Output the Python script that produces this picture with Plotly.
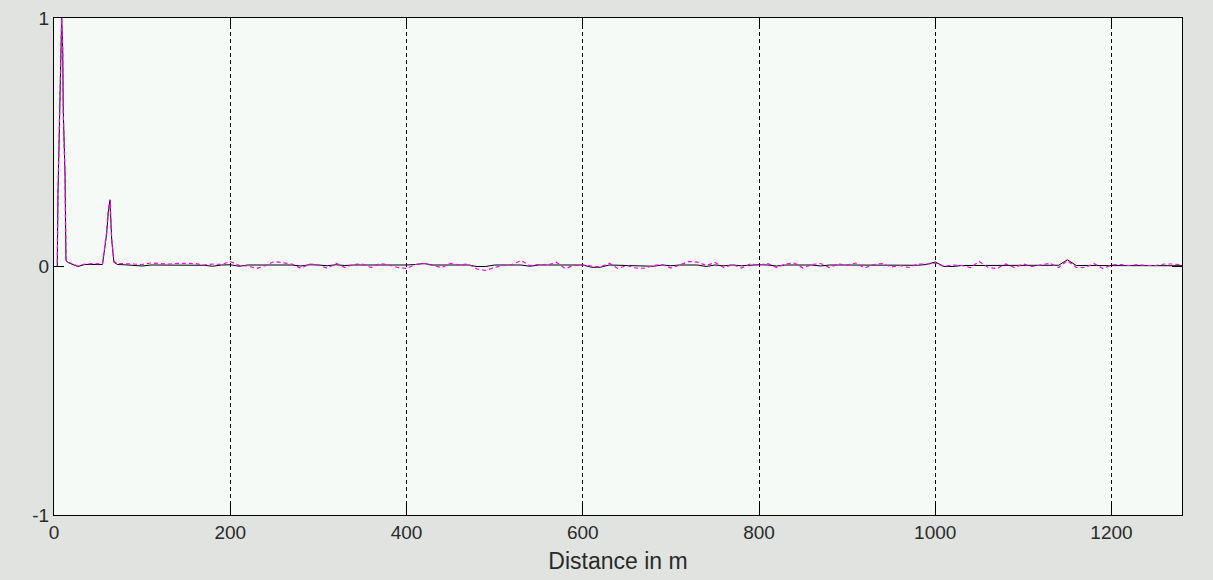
import plotly.graph_objects as go

# ---- data ----
dist_peak = [0, 3.0, 3.7, 4.5, 5.7, 7.9, 8.7, 9.9, 10.5, 12.5, 13.6, 16, 20, 27, 35, 45, 55,
             59.8, 61.6, 63.5, 65.5, 68, 72]
black_peak = [0, 0, 0.0, 0.29, 0.54, 0.86, 1.0, 0.87, 0.63, 0.37, 0.024, 0.016, 0.010, 0.0,
              0.008, 0.008, 0.008, 0.133, 0.218, 0.266, 0.105, 0.017, 0.008]
magenta_peak = [0, 0, 0.0, 0.30, 0.55, 0.87, 1.0, 0.86, 0.62, 0.36, 0.03, 0.018, 0.012, 0.002,
                0.010, 0.012, 0.010, 0.14, 0.225, 0.27, 0.11, 0.02, 0.012]

dist_tail = list(range(80, 1281, 10))  # sample positions 80 .. 1280 m
black_tail = [
    0.007, 0.006, 0.002, 0.006, 0.006, 0.007, 0.006, 0.007, 0.006, 0.005,   # 80-170
    0.001, 0.006, 0.007, 0.001, 0.006, 0.006, 0.007, 0.006, 0.006, 0.006,   # 180-270
    0.002, 0.007, 0.006, 0.003, 0.007, 0.004, 0.006, 0.006, 0.003, 0.006,   # 280-370
    0.006, 0.003, 0.006, 0.008, 0.012, 0.006, 0.006, 0.007, 0.006, 0.006,   # 380-470
    0.000, 0.000, 0.006, 0.006, 0.007, 0.006, 0.001, 0.006, 0.006, 0.006,   # 480-570
    0.005, 0.006, 0.006, -0.003, -0.003, 0.006, 0.005, 0.006, 0.006, 0.005, # 580-670
    0.001, 0.006, 0.003, 0.006, 0.006, 0.006, 0.000, 0.006, 0.003, 0.006,   # 680-770
    0.003, 0.006, 0.007, 0.006, 0.002, 0.006, 0.006, 0.005, 0.006, 0.002,   # 780-870
    0.006, 0.006, 0.006, 0.003, 0.006, 0.006, 0.006, 0.006, 0.004, 0.004,   # 880-970
    0.005, 0.008, 0.018, 0.000, 0.000, 0.004, 0.004, 0.005, 0.004, 0.004,   # 980-1070
    0.005, 0.004, 0.004, 0.003, 0.005, 0.004, 0.005, 0.027, 0.004, 0.004,   # 1080-1170
    0.004, 0.003, 0.004, 0.004, 0.004, 0.004, 0.003, 0.004, 0.004, 0.004,   # 1180-1270
    0.003,                                                                  # 1280
]
magenta_tail = [
    0.012, 0.010, 0.008, 0.014, 0.012, 0.010, 0.013, 0.014, 0.012, 0.006,   # 80-170
    0.010, 0.008, 0.020, 0.004, 0.002, -0.008, 0.004, 0.020, 0.016, 0.010,  # 180-270
    -0.007, 0.010, 0.006, -0.007, 0.013, -0.004, 0.008, 0.010, -0.004, 0.012,  # 280-370
    0.006, -0.004, -0.008, 0.008, 0.012, 0.004, -0.004, 0.013, 0.006, 0.010,   # 380-470
    -0.010, -0.016, -0.004, 0.004, 0.008, 0.024, 0.004, 0.008, 0.006, 0.017,  # 480-570
    -0.008, 0.004, 0.006, 0.002, -0.002, 0.013, -0.008, 0.004, -0.006, -0.007, # 580-670
    0.004, 0.008, -0.006, 0.006, 0.020, 0.018, 0.004, 0.016, -0.004, 0.008,   # 680-770
    -0.006, 0.010, 0.006, 0.012, -0.004, 0.010, 0.014, -0.006, 0.008, 0.012,  # 780-870
    -0.004, 0.010, 0.006, 0.014, -0.006, 0.008, 0.012, -0.002, 0.004, -0.004, # 880-970
    0.010, 0.010, 0.014, 0.000, 0.006, 0.004, -0.004, 0.020, -0.004, -0.008,  # 980-1070
    0.010, -0.004, 0.010, 0.000, 0.006, 0.013, -0.004, 0.024, -0.004, -0.004, # 1080-1170
    0.012, -0.008, 0.006, 0.008, 0.004, 0.008, 0.004, 0.004, 0.010, 0.010,    # 1180-1270
    0.006,                                                                    # 1280
]

x_ticks = [0, 200, 400, 600, 800, 1000, 1200]
y_ticks = [-1, 0, 1]
x_title = "Distance in m"

dist = dist_peak + dist_tail
black = black_peak + black_tail
magenta = magenta_peak + magenta_tail

fig = go.Figure()
fig.add_trace(go.Scatter(x=dist, y=black, mode="lines",
                         line=dict(color="black", width=1), showlegend=False))
fig.add_trace(go.Scatter(x=dist, y=magenta, mode="lines",
                         line=dict(color="#ff00ff", width=1.2, dash="4px,3px"), showlegend=False))

font = dict(family="Liberation Sans, Arial, sans-serif", size=19, color="#2a2a2a")
fig.update_layout(
    width=1213, height=580,
    margin=dict(l=54, r=31, t=18, b=65),
    paper_bgcolor="#e0e3e0",
    plot_bgcolor="#f5faf7",
    font=font,
    showlegend=False,
)
fig.update_xaxes(
    range=[0, 1280], tickvals=x_ticks, ticktext=[str(v) for v in x_ticks],
    showline=True, linecolor="black", linewidth=1, mirror="ticks",
    ticks="inside", ticklen=10, tickcolor="black", tickwidth=1,
    showgrid=True, gridcolor="black", gridwidth=1, griddash="4px,3px",
    zeroline=False, title=dict(text=x_title, standoff=11), tickfont=font,
    automargin=False,
)
fig.update_yaxes(
    range=[-1, 1], tickvals=y_ticks, ticktext=[str(v) for v in y_ticks],
    showline=True, linecolor="black", linewidth=1, mirror="ticks",
    ticks="inside", ticklen=10, tickcolor="black", tickwidth=1,
    showgrid=False, zeroline=False, tickfont=font, ticklabelstandoff=0,
    automargin=False,
)

fig.write_html(
    "out.html",
    config={"displayModeBar": False},
    post_script="document.body.style.margin='0';document.body.style.background='#e0e3e0';",
)
